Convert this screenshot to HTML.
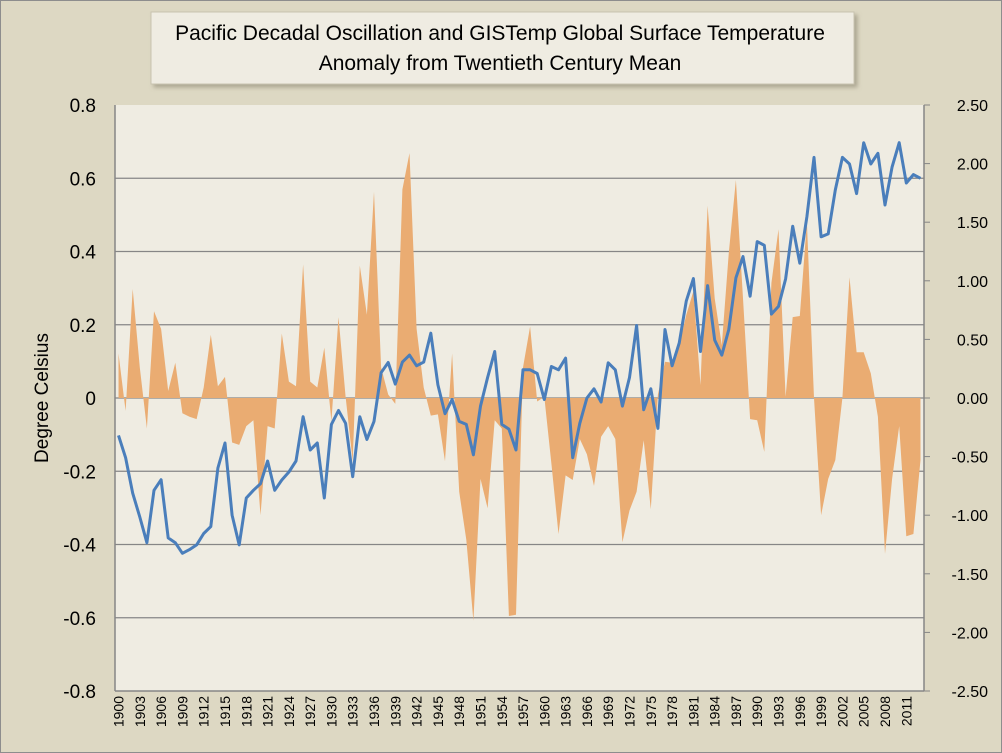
<!DOCTYPE html>
<html><head><meta charset="utf-8"><style>
body{margin:0;background:#fff}
svg{display:block;font-family:"Liberation Sans",sans-serif}
</style></head><body>
<svg id="chart" width="1002" height="753">
<defs><filter id="sh" x="-5%" y="-20%" width="115%" height="150%"><feDropShadow dx="3" dy="3" stdDeviation="2" flood-color="#8a8570" flood-opacity="0.6"/></filter></defs>
<rect x="0.5" y="0.5" width="1001" height="752" fill="#ddd8c3" stroke="#8d8d8d"/>
<rect x="115" y="105" width="809" height="586" fill="#efece2"/>
<g id="grid"></g>
<g id="series"></g>
<g id="axes"></g>
<g filter="url(#sh)"><rect x="151" y="12" width="703" height="72" fill="#efece2" stroke="#c8c3b0"/></g>
<text x="500" y="40" text-anchor="middle" font-size="21" fill="#000">Pacific Decadal Oscillation and GISTemp Global Surface Temperature</text>
<text x="500" y="70" text-anchor="middle" font-size="21" fill="#000">Anomaly from Twentieth Century Mean</text>
<text transform="translate(48,398) rotate(-90)" text-anchor="middle" font-size="19" fill="#000">Degree Celsius</text>
</svg>
<script>
const startYear = 1900;
const tempValues = [-0.102,-0.163,-0.26,-0.325,-0.395,-0.252,-0.223,-0.382,-0.395,-0.424,-0.414,-0.401,-0.37,-0.351,-0.191,-0.123,-0.32,-0.401,-0.273,-0.252,-0.234,-0.172,-0.252,-0.224,-0.202,-0.172,-0.051,-0.142,-0.123,-0.273,-0.072,-0.034,-0.069,-0.215,-0.051,-0.113,-0.064,0.069,0.097,0.038,0.098,0.117,0.088,0.098,0.177,0.036,-0.043,-0.004,-0.064,-0.072,-0.155,-0.022,0.056,0.127,-0.072,-0.085,-0.142,0.077,0.077,0.067,-0.004,0.086,0.077,0.109,-0.163,-0.069,0,0.025,-0.011,0.096,0.077,-0.022,0.056,0.198,-0.032,0.025,-0.083,0.187,0.088,0.150,0.265,0.326,0.127,0.307,0.158,0.117,0.187,0.328,0.386,0.278,0.427,0.417,0.229,0.250,0.325,0.469,0.368,0.495,0.657,0.440,0.448,0.568,0.657,0.639,0.558,0.697,0.639,0.668,0.527,0.631,0.697,0.587,0.610,0.600];
const pdoValues = [0.38,-0.11,0.93,0.26,-0.26,0.74,0.59,0.06,0.30,-0.13,-0.16,-0.18,0.09,0.54,0.10,0.18,-0.38,-0.40,-0.24,-0.19,-1.00,-0.24,-0.26,0.55,0.14,0.10,1.14,0.14,0.09,0.43,-0.20,0.69,0.01,-0.54,1.13,0.71,1.76,0.26,0.03,-0.05,1.78,2.09,0.59,0.09,-0.15,-0.14,-0.54,0.38,-0.80,-1.21,-1.90,-0.69,-0.94,-0.19,-0.26,-1.86,-1.85,0.26,0.61,-0.03,0.01,-0.56,-1.16,-0.66,-0.70,-0.35,-0.48,-0.75,-0.33,-0.24,-0.35,-1.23,-0.96,-0.80,-0.36,-0.95,0.03,0.31,0.30,0.45,0.71,0.91,0.11,1.64,0.85,0.45,1.24,1.86,0.85,-0.18,-0.19,-0.46,0.98,1.44,0.01,0.69,0.70,1.50,0,-1.00,-0.69,-0.53,0,1.03,0.39,0.39,0.21,-0.16,-1.33,-0.69,-0.24,-1.18,-1.16,-0.53];
const leftTicks = ["0.8","0.6","0.4","0.2","0","-0.2","-0.4","-0.6","-0.8"];
const rightTicks = ["2.50","2.00","1.50","1.00","0.50","0.00","-0.50","-1.00","-1.50","-2.00","-2.50"];
const NS="http://www.w3.org/2000/svg";
const L=115,R=924,T=105,B=691;
const n=tempValues.length, step=(R-L)/n;
const xs=i=>L+(i+0.5)*step;
const yL=v=>T+(0.8-v)/1.6*(B-T);
const yR=v=>T+(2.5-v)/5*(B-T);
function mk(tag,attrs,parent){const e=document.createElementNS(NS,tag);for(const k in attrs)e.setAttribute(k,attrs[k]);parent.appendChild(e);return e;}
const grid=document.getElementById('grid'),ser=document.getElementById('series'),ax=document.getElementById('axes');
leftTicks.forEach((t,i)=>{const v=parseFloat(t);const y=yL(v);
 if(i>0&&i<leftTicks.length-1){const g=mk('line',{x1:L,x2:R,y1:y,y2:y,stroke:'#868686','stroke-width':1.3},grid);
 
 }
 const tx=mk('text',{x:96,y:y+7,'text-anchor':'end','font-size':19,fill:'#000'},ax);tx.textContent=t;
 
 });
rightTicks.forEach(t=>{const v=parseFloat(t);const y=yR(v);
 const tk=mk('line',{x1:R,x2:R+6,y1:y,y2:y,stroke:'#868686','stroke-width':1},ax);
 
 
 const tx=mk('text',{x:988,y:y+6,'text-anchor':'end','font-size':16,fill:'#000'},ax);tx.textContent=t;
 
 });
let d='M'+xs(0)+','+yR(0);
pdoValues.forEach((v,i)=>{d+=' L'+xs(i).toFixed(1)+','+yR(v).toFixed(1);});
d+=' L'+xs(n-1)+','+yR(0)+' Z';
const area=mk('path',{d:d,fill:'#eaac72'},ser);


let p='';tempValues.forEach((v,i)=>{p+=(i?' L':'M')+xs(i).toFixed(1)+','+yL(v).toFixed(1);});
const line=mk('path',{d:p,fill:'none',stroke:'#4a7ebb','stroke-width':3,'stroke-linejoin':'round'},ser);


const la=mk('line',{x1:L,x2:L,y1:T,y2:B,stroke:'#868686','stroke-width':1.5},ax);


const ra=mk('line',{x1:R,x2:R,y1:T,y2:B,stroke:'#868686','stroke-width':1.5},ax);


const ba=mk('line',{x1:L,x2:R,y1:B,y2:B,stroke:'#868686','stroke-width':1.5},ax);


for(let i=0;i<n;i+=3){const x=xs(i);
 const tx=mk('text',{transform:'translate('+(x+5)+','+(B+5)+') rotate(-90)','text-anchor':'end','font-size':14,fill:'#000'},ax);
 tx.textContent=String(startYear+i);
 
 }
</script>
</body></html>
